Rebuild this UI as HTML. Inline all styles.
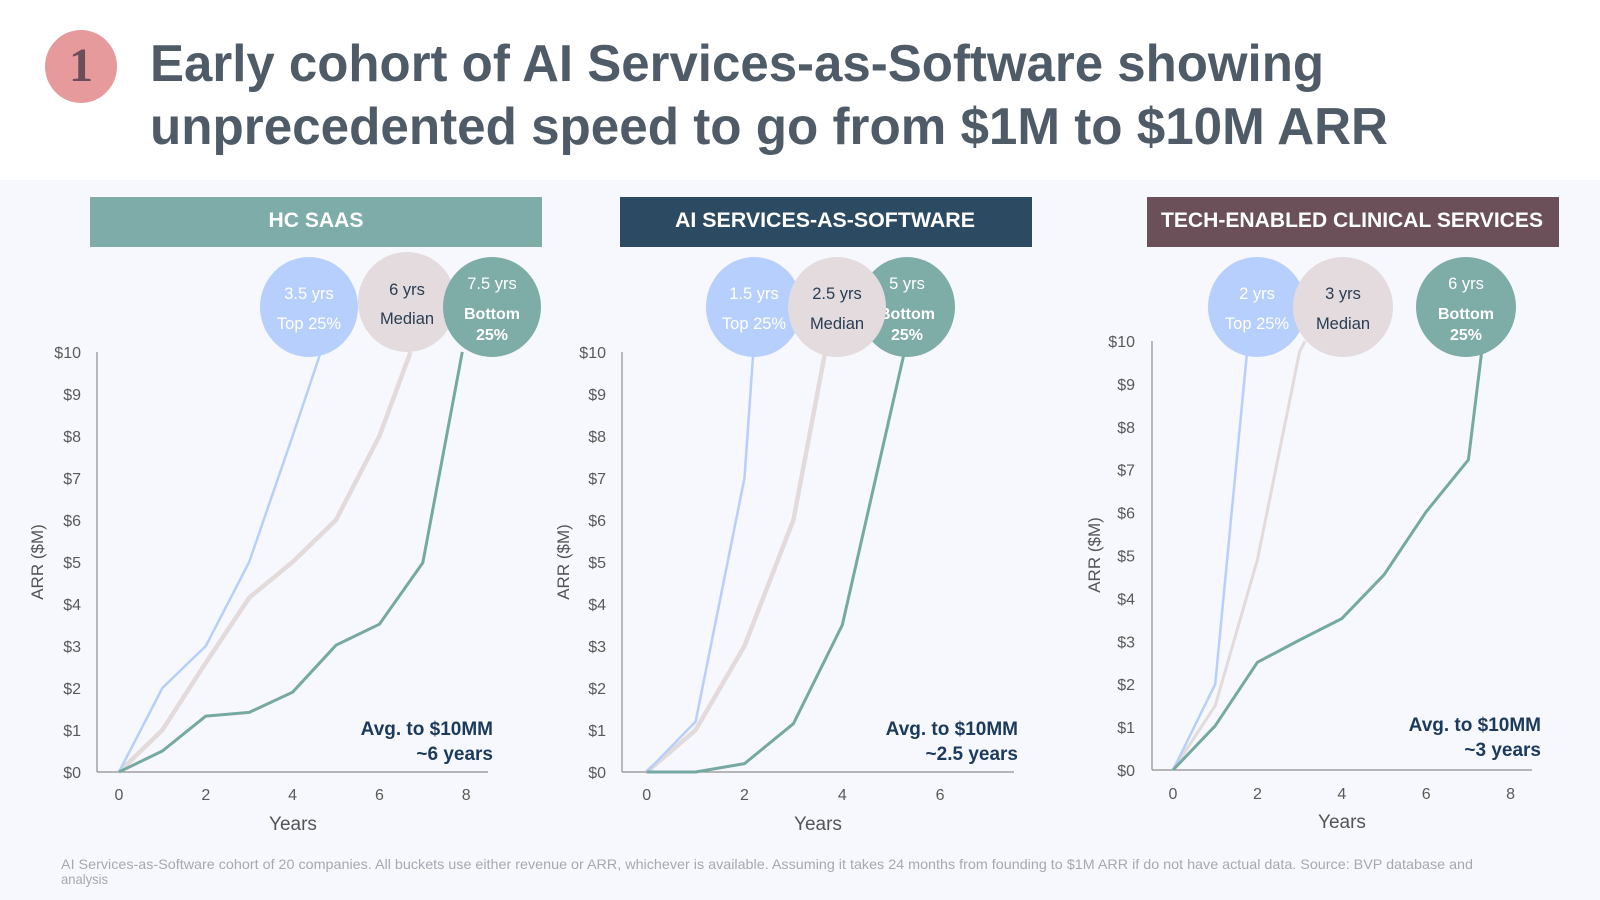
<!DOCTYPE html>
<html>
<head>
<meta charset="utf-8">
<style>
  html,body{margin:0;padding:0;background:#fff;}
  svg{display:block;}
  text{font-family:"Liberation Sans",sans-serif;}
</style>
</head>
<body>
<svg width="1600" height="900" viewBox="0 0 1600 900" xmlns="http://www.w3.org/2000/svg">
  <rect x="0" y="0" width="1600" height="900" fill="#ffffff"/>
  <rect x="0" y="180" width="1600" height="720" fill="#f7f8fd"/>

  <!-- Badge -->
  <ellipse cx="81" cy="66.5" rx="36" ry="36.5" fill="#e69a9c"/>
  <text x="81" y="81" text-anchor="middle" font-family="Liberation Serif, serif" style="font-family:'Liberation Serif',serif" font-weight="bold" font-size="48" fill="#6b4e5a">1</text>

  <!-- Title -->
  <text x="150" y="81" font-size="52" font-weight="bold" fill="#4f5c68" textLength="1174" lengthAdjust="spacingAndGlyphs">Early cohort of AI Services-as-Software showing</text>
  <text x="150" y="144" font-size="52" font-weight="bold" fill="#4f5c68" textLength="1238" lengthAdjust="spacingAndGlyphs">unprecedented speed to go from $1M to $10M ARR</text>

  <!-- Header bars -->
  <rect x="90" y="197" width="452" height="50" fill="#7eaca8"/>
  <text x="316" y="227" text-anchor="middle" font-size="21" font-weight="bold" fill="#ffffff" textLength="95" lengthAdjust="spacingAndGlyphs">HC SAAS</text>
  <rect x="620" y="197" width="412" height="50" fill="#2c4a62"/>
  <text x="825" y="227" text-anchor="middle" font-size="21" font-weight="bold" fill="#ffffff" textLength="300" lengthAdjust="spacingAndGlyphs">AI SERVICES-AS-SOFTWARE</text>
  <rect x="1147" y="197" width="412" height="50" fill="#6b4f59"/>
  <text x="1352" y="227" text-anchor="middle" font-size="21" font-weight="bold" fill="#ffffff" textLength="382" lengthAdjust="spacingAndGlyphs">TECH-ENABLED CLINICAL SERVICES</text>

  <!-- ===== LEFT CHART ===== -->
  <g font-size="16" fill="#5a5a5a" text-anchor="end">
    <text x="81" y="778">$0</text>
    <text x="81" y="736">$1</text>
    <text x="81" y="694">$2</text>
    <text x="81" y="652">$3</text>
    <text x="81" y="610">$4</text>
    <text x="81" y="568">$5</text>
    <text x="81" y="526">$6</text>
    <text x="81" y="484">$7</text>
    <text x="81" y="442">$8</text>
    <text x="81" y="400">$9</text>
    <text x="81" y="358">$10</text>
  </g>
  <g font-size="16" fill="#5a5a5a" text-anchor="middle">
    <text x="119" y="800">0</text>
    <text x="205.8" y="800">2</text>
    <text x="292.6" y="800">4</text>
    <text x="379.4" y="800">6</text>
    <text x="466.2" y="800">8</text>
  </g>
  <text x="293" y="830" text-anchor="middle" font-size="19" fill="#555">Years</text>
  <text transform="translate(43,562) rotate(-90)" text-anchor="middle" font-size="17" fill="#555">ARR ($M)</text>
  <line x1="97" y1="352" x2="97" y2="772" stroke="#8f8f8f" stroke-width="1.2"/>
  <line x1="97" y1="772" x2="488" y2="772" stroke="#8f8f8f" stroke-width="1.2"/>
  <polyline fill="none" stroke="#e3dadc" stroke-width="4.5" stroke-linejoin="round" points="119,772 162.4,730 205.8,662.8 249.2,597.7 292.6,562 336,520 379.4,436 410.6,352"/>
  <polyline fill="none" stroke="#b7cffb" stroke-width="2.5" stroke-linejoin="round" points="119,772 162.4,688 205.8,646 249.2,562 292.6,436 320.8,352"/>
  <polyline fill="none" stroke="#76a9a1" stroke-width="3" stroke-linejoin="round" points="119,772 162.4,751 205.8,716.1 249.2,712.4 292.6,692.2 336,645.2 379.4,624.2 422.8,562.8 462.3,352"/>
  <ellipse cx="309" cy="307" rx="49" ry="50" fill="#b7cffc"/>
  <ellipse cx="407" cy="302" rx="49" ry="50" fill="#e3dbde"/>
  <ellipse cx="492" cy="307" rx="49" ry="50" fill="#7eaca6"/>
  <g text-anchor="middle" font-size="16.5">
    <text x="309" y="299" fill="#fff">3.5 yrs</text>
    <text x="309" y="329" fill="#fff">Top 25%</text>
    <text x="407" y="295" fill="#2a3d52">6 yrs</text>
    <text x="407" y="324" fill="#2a3d52">Median</text>
    <text x="492" y="289" fill="#fff">7.5 yrs</text>
    <text x="492" y="319" fill="#fff" font-weight="bold" font-size="16">Bottom</text>
    <text x="492" y="340" fill="#fff" font-weight="bold" font-size="16">25%</text>
  </g>
  <g text-anchor="end" font-size="19" font-weight="bold" fill="#1b3a5c">
    <text x="493" y="735">Avg. to $10MM</text>
    <text x="493" y="760">~6 years</text>
  </g>

  <!-- ===== MIDDLE CHART ===== -->
  <g font-size="16" fill="#5a5a5a" text-anchor="end">
    <text x="606" y="778">$0</text>
    <text x="606" y="736">$1</text>
    <text x="606" y="694">$2</text>
    <text x="606" y="652">$3</text>
    <text x="606" y="610">$4</text>
    <text x="606" y="568">$5</text>
    <text x="606" y="526">$6</text>
    <text x="606" y="484">$7</text>
    <text x="606" y="442">$8</text>
    <text x="606" y="400">$9</text>
    <text x="606" y="358">$10</text>
  </g>
  <g font-size="16" fill="#5a5a5a" text-anchor="middle">
    <text x="646.7" y="800">0</text>
    <text x="744.5" y="800">2</text>
    <text x="842.3" y="800">4</text>
    <text x="940.1" y="800">6</text>
  </g>
  <text x="818" y="830" text-anchor="middle" font-size="19" fill="#555">Years</text>
  <text transform="translate(569,562) rotate(-90)" text-anchor="middle" font-size="17" fill="#555">ARR ($M)</text>
  <line x1="622" y1="352" x2="622" y2="772" stroke="#8f8f8f" stroke-width="1.2"/>
  <line x1="622" y1="772" x2="1014" y2="772" stroke="#8f8f8f" stroke-width="1.2"/>
  <polyline fill="none" stroke="#e3dadc" stroke-width="4.5" stroke-linejoin="round" points="646.7,772 695.6,730 744.5,646 793.4,520 825.2,352"/>
  <polyline fill="none" stroke="#b7cffb" stroke-width="2.5" stroke-linejoin="round" points="646.7,772 695.6,721.6 744.5,478 753.3,352"/>
  <polyline fill="none" stroke="#76a9a1" stroke-width="3" stroke-linejoin="round" points="646.7,772 695.6,772 744.5,763.6 793.4,723.7 842.3,625 904.4,352"/>
  <ellipse cx="907" cy="307" rx="48" ry="50" fill="#7eaca6"/>
  <g text-anchor="middle" font-size="16.5" fill="#fff">
    <text x="907" y="289">5 yrs</text>
    <text x="907" y="319" font-weight="bold" font-size="16">Bottom</text>
    <text x="907" y="340" font-weight="bold" font-size="16">25%</text>
  </g>
  <ellipse cx="754" cy="307" rx="48" ry="50" fill="#b7cffc"/>
  <g text-anchor="middle" font-size="16.5" fill="#fff">
    <text x="754" y="299">1.5 yrs</text>
    <text x="754" y="329">Top 25%</text>
  </g>
  <ellipse cx="837" cy="307" rx="49" ry="50" fill="#e3dbde"/>
  <g text-anchor="middle" font-size="16.5" fill="#2a3d52">
    <text x="837" y="299">2.5 yrs</text>
    <text x="837" y="329">Median</text>
  </g>
  <g text-anchor="end" font-size="19" font-weight="bold" fill="#1b3a5c">
    <text x="1018" y="735">Avg. to $10MM</text>
    <text x="1018" y="760">~2.5 years</text>
  </g>

  <!-- ===== RIGHT CHART ===== -->
  <g font-size="16" fill="#5a5a5a" text-anchor="end">
    <text x="1135" y="776">$0</text>
    <text x="1135" y="733.1">$1</text>
    <text x="1135" y="690.2">$2</text>
    <text x="1135" y="647.3">$3</text>
    <text x="1135" y="604.4">$4</text>
    <text x="1135" y="561.5">$5</text>
    <text x="1135" y="518.6">$6</text>
    <text x="1135" y="475.7">$7</text>
    <text x="1135" y="432.8">$8</text>
    <text x="1135" y="389.9">$9</text>
    <text x="1135" y="347">$10</text>
  </g>
  <g font-size="16" fill="#5a5a5a" text-anchor="middle">
    <text x="1173" y="799">0</text>
    <text x="1257.4" y="799">2</text>
    <text x="1341.8" y="799">4</text>
    <text x="1426.2" y="799">6</text>
    <text x="1510.6" y="799">8</text>
  </g>
  <text x="1342" y="828" text-anchor="middle" font-size="19" fill="#555">Years</text>
  <text transform="translate(1100,555) rotate(-90)" text-anchor="middle" font-size="17" fill="#555">ARR ($M)</text>
  <line x1="1152" y1="341" x2="1152" y2="770" stroke="#8f8f8f" stroke-width="1.2"/>
  <line x1="1152" y1="770" x2="1532" y2="770" stroke="#8f8f8f" stroke-width="1.2"/>
  <polyline fill="none" stroke="#e3dadc" stroke-width="3" stroke-linejoin="round" points="1173,770 1215.2,705.7 1257.4,559.8 1299.6,351.7 1305,341"/>
  <polyline fill="none" stroke="#b7cffb" stroke-width="2.5" stroke-linejoin="round" points="1173,770 1215.2,684.2 1248.1,341"/>
  <polyline fill="none" stroke="#76a9a1" stroke-width="3" stroke-linejoin="round" points="1173,770 1215.2,725.8 1257.4,662.3 1299.6,640 1341.8,618.6 1384,574.8 1426.2,511.7 1468.4,459.8 1483,341"/>
  <ellipse cx="1257" cy="307" rx="49" ry="50" fill="#b7cffc"/>
  <g text-anchor="middle" font-size="16.5" fill="#fff">
    <text x="1257" y="299">2 yrs</text>
    <text x="1257" y="329">Top 25%</text>
  </g>
  <ellipse cx="1343" cy="307" rx="50" ry="50" fill="#e3dbde"/>
  <g text-anchor="middle" font-size="16.5" fill="#2a3d52">
    <text x="1343" y="299">3 yrs</text>
    <text x="1343" y="329">Median</text>
  </g>
  <ellipse cx="1466" cy="307" rx="50" ry="50" fill="#7eaca6"/>
  <g text-anchor="middle" font-size="16.5" fill="#fff">
    <text x="1466" y="289">6 yrs</text>
    <text x="1466" y="319" font-weight="bold" font-size="16">Bottom</text>
    <text x="1466" y="340" font-weight="bold" font-size="16">25%</text>
  </g>
  <g text-anchor="end" font-size="19" font-weight="bold" fill="#1b3a5c">
    <text x="1541" y="731">Avg. to $10MM</text>
    <text x="1541" y="756">~3 years</text>
  </g>

  <!-- Footnote -->
  <text x="61" y="869" font-size="14" fill="#a6a9b0" textLength="1412" lengthAdjust="spacingAndGlyphs">AI Services-as-Software cohort of 20 companies. All buckets use either revenue or ARR, whichever is available. Assuming it takes 24 months from founding to $1M ARR if do not have actual data. Source: BVP database and</text>
  <text x="61" y="884" font-size="14" fill="#a6a9b0" textLength="47" lengthAdjust="spacingAndGlyphs">analysis</text>
</svg>
</body>
</html>
